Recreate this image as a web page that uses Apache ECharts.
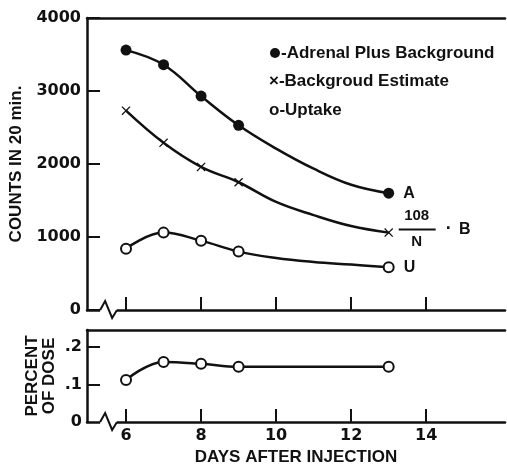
<!DOCTYPE html>
<html lang="en">
<head>
    <meta charset="UTF-8">
    <title>Counts after injection</title>
    <script src="https://cdn.jsdelivr.net/npm/echarts@6/dist/echarts.min.js"></script>
</head>
<body style="margin:0;background:#fff;">
    <div id="main" style="width:507px;height:466px;"></div>
<script type="text/javascript">
    var days = [6, 7, 8, 9, 13];
    var adrenalPlusBg = [3560, 3360, 2930, 2530, 1600];
    var backgroundEst = [2730, 2290, 1960, 1750, 1060];
    var uptake = [840, 1060, 950, 800, 585];
    var percentDose = [0.112, 0.160, 0.155, 0.147, 0.147];
    // hand-drawn curves at every day
    var curveDays = [6, 7, 8, 9, 10, 11, 12, 13];
    var adrenalCurve = [3560, 3360, 2930, 2530, 2210, 1935, 1715, 1600];
    var backgroundCurve = [2730, 2290, 1960, 1750, 1480, 1300, 1150, 1060];
    var uptakeCurve = [840, 1060, 950, 800, 712, 658, 622, 585];
    var doseCurve = [0.112, 0.160, 0.155, 0.147, 0.147, 0.147, 0.147, 0.147];
    // tick labels
    var dayTicks = [6, 8, 10, 12, 14];
    var doseTicks = [0, 0.1, 0.2];

    var ink = '#111';
    var numFont = 'DejaVu Sans';
    var txtFont = 'Liberation Sans';
    var xMin = 4.96, xMax = 16.1;

    function pairs(xs, ys) {
        return xs.map(function (d, i) { return [d, ys[i]]; });
    }

    var myChart = echarts.init(document.getElementById('main'));

    function bottomX(grid, withLabels) {
        return {
            type: 'value', gridIndex: grid, min: xMin, max: xMax,
            position: 'bottom',
            axisLine: { lineStyle: { color: ink, width: 2.5 } },
            axisTick: { inside: true, length: 13, customValues: dayTicks, lineStyle: { color: ink, width: 2 } },
            axisLabel: {
                show: withLabels, customValues: dayTicks, margin: 6,
                color: ink, fontFamily: numFont, fontWeight: 'bold', fontSize: 16
            },
            splitLine: { show: false },
            name: withLabels ? 'DAYS AFTER INJECTION' : '',
            nameLocation: 'middle', nameGap: 27,
            nameTextStyle: { color: ink, fontFamily: txtFont, fontWeight: 'bold', fontSize: 17 }
        };
    }
    function topBorder(grid) {
        return {
            type: 'value', gridIndex: grid, min: xMin, max: xMax, position: 'top',
            axisLine: { lineStyle: { color: ink, width: 2.5 } },
            axisTick: { show: false }, axisLabel: { show: false }, splitLine: { show: false }
        };
    }
    function curve(name, ys, xi, yi) {
        return {
            name: name, type: 'line', xAxisIndex: xi, yAxisIndex: yi,
            data: pairs(curveDays, ys), smooth: 0.4, showSymbol: false,
            lineStyle: { color: ink, width: 2.5 }, z: 2
        };
    }
    function marks(name, ys, xi, yi, extra) {
        return Object.assign({
            name: name, type: 'scatter', xAxisIndex: xi, yAxisIndex: yi,
            data: pairs(days, ys), z: 3
        }, extra);
    }
    function endLabel(s) {
        return {
            show: true, position: 'right', distance: 9, color: ink,
            fontFamily: txtFont, fontWeight: 'bold', fontSize: 16,
            formatter: function (p) { return p.dataIndex === days.length - 1 ? s : ''; }
        };
    }
    var openDot = { color: '#fff', borderColor: ink, borderWidth: 2, opacity: 1 };

    var option = {
        animation: false,
        backgroundColor: '#fff',
        grid: [
            { left: 87, right: 2, top: 18, height: 292, outerBoundsMode: 'none', containLabel: false },
            { left: 87, right: 2, top: 330, height: 92, outerBoundsMode: 'none', containLabel: false }
        ],
        xAxis: [bottomX(0, false), bottomX(1, true), topBorder(0), topBorder(1)],
        yAxis: [
            {
                type: 'value', gridIndex: 0, min: 0, max: 4000, interval: 1000,
                axisLine: { show: true, lineStyle: { color: ink, width: 2.5 } },
                axisTick: { show: true, inside: true, length: 13, lineStyle: { color: ink, width: 2 } },
                axisLabel: {
                    margin: 6, color: ink, fontFamily: numFont, fontWeight: 'bold', fontSize: 16,
                    formatter: function (v) { return String(v); }
                },
                splitLine: { show: false },
                name: 'COUNTS IN 20 min.', nameLocation: 'middle', nameGap: 62, nameRotate: 90,
                nameTextStyle: { color: ink, fontFamily: txtFont, fontWeight: 'bold', fontSize: 17 }
            },
            {
                type: 'value', gridIndex: 1, min: 0, max: 0.245,
                axisLine: { show: true, lineStyle: { color: ink, width: 2.5 } },
                axisTick: { show: true, inside: true, length: 13, customValues: [0.1, 0.2], lineStyle: { color: ink, width: 2 } },
                axisLabel: {
                    margin: 5, customValues: doseTicks, color: ink, fontFamily: numFont, fontWeight: 'bold', fontSize: 16,
                    formatter: function (v) { return v === 0 ? '0' : '.' + Math.round(v * 10); }
                },
                splitLine: { show: false },
                name: 'PERCENT\nOF DOSE', nameLocation: 'middle', nameGap: 29, nameRotate: 90,
                nameMoveOverlap: false,
                nameTextStyle: { color: ink, fontFamily: txtFont, fontWeight: 'bold', fontSize: 17, lineHeight: 17 }
            }
        ],
        series: [
            curve('Adrenal Plus Background', adrenalCurve, 0, 0),
            curve('Backgroud Estimate', backgroundCurve, 0, 0),
            curve('Uptake', uptakeCurve, 0, 0),
            curve('Percent of dose', doseCurve, 1, 1),
            marks('Adrenal Plus Background', adrenalPlusBg, 0, 0, {
                symbol: 'circle', symbolSize: 11, itemStyle: { color: ink, opacity: 1 }, label: endLabel('A')
            }),
            marks('Backgroud Estimate', backgroundEst, 0, 0, {
                symbol: 'path://M0,1L1,0L5,4L9,0L10,1L6,5L10,9L9,10L5,6L1,10L0,9L4,5Z', symbolSize: 9,
                itemStyle: { color: ink, opacity: 1 }
            }),
            marks('Uptake', uptake, 0, 0, {
                symbol: 'circle', symbolSize: 10, itemStyle: openDot, label: endLabel('U')
            }),
            marks('Percent of dose', percentDose, 1, 1, {
                symbol: 'circle', symbolSize: 10, itemStyle: openDot
            })
        ]
    };
    myChart.setOption(option);

    // decorations: legend text, fraction label, axis breaks
    var txt = { fill: ink, fontFamily: txtFont, fontWeight: 'bold', fontSize: 17 };
    function t(x, y, s, extra) {
        var st = Object.assign({ x: x, y: y, text: s, verticalAlign: 'middle' }, txt, extra || {});
        return { type: 'text', style: st, z: 10 };
    }
    var g = [
        { type: 'circle', z: 10, shape: { cx: 275, cy: 53, r: 5 }, style: { fill: ink } },
        t(281, 53, '-Adrenal Plus Background'),
        t(269, 81, '×-Backgroud Estimate'),
        t(269, 110, 'o-Uptake')
    ];

    var bEnd = myChart.convertToPixel({ gridIndex: 0 }, [days[4], backgroundEst[4]]);
    g.push(t(bEnd[0] + 28, bEnd[1] - 17, '108', { align: 'center', fontSize: 15 }));
    g.push({ type: 'line', z: 10, shape: { x1: bEnd[0] + 10, y1: bEnd[1] - 3, x2: bEnd[0] + 47, y2: bEnd[1] - 3 }, style: { stroke: ink, lineWidth: 2 } });
    g.push(t(bEnd[0] + 28, bEnd[1] + 9, 'N', { align: 'center', fontSize: 15 }));
    g.push(t(bEnd[0] + 60, bEnd[1] - 4, '·', { align: 'center', fontSize: 18 }));
    g.push(t(bEnd[0] + 76, bEnd[1] - 3, 'B', { align: 'center', fontSize: 16 }));

    [0, 1].forEach(function (gi) {
        var a = myChart.convertToPixel({ gridIndex: gi }, [5.31, 0]);
        var b = myChart.convertToPixel({ gridIndex: gi }, [5.76, 0]);
        var y = a[1], x0 = a[0], x1 = b[0];
        g.push({ type: 'rect', z: 9, shape: { x: x0, y: y - 3, width: x1 - x0, height: 6 }, style: { fill: '#fff' } });
        g.push({
            type: 'polyline', z: 10,
            shape: { points: [[x0, y], [x0 + 5, y - 9], [x0 + 12, y + 8], [x1, y]] },
            style: { stroke: ink, lineWidth: 2, fill: null }
        });
    });

    myChart.setOption({ graphic: g });
</script>
</body>
</html>
